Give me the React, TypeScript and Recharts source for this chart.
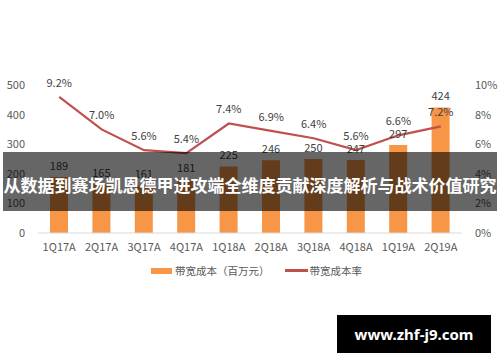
import React from "react";
import {
  ComposedChart,
  Bar,
  Line,
  XAxis,
  YAxis,
  LabelList,
} from "recharts";

const quarters = ["1Q17A", "2Q17A", "3Q17A", "4Q17A", "1Q18A", "2Q18A", "3Q18A", "4Q18A", "1Q19A", "2Q19A"];
const bandwidthCost = [189, 165, 161, 181, 225, 246, 250, 247, 297, 424];
const bandwidthRate = [9.2, 7.0, 5.6, 5.4, 7.4, 6.9, 6.4, 5.6, 6.6, 7.2];
const leftTicks = [0, 100, 200, 300, 400, 500];
const rightTicks = [0, 2, 4, 6, 8, 10];

const BAR_NAME = "带宽成本（百万元）";
const LINE_NAME = "带宽成本率";
const TITLE = "从数据到赛场凯恩德甲进攻端全维度贡献深度解析与战术价值研究";
const WATERMARK = "www.zhf-j9.com";

const ORANGE = "#f79646";
const RED = "#c0504d";
const FONT = "'Noto Sans CJK SC', 'Noto Sans', sans-serif";

const data = quarters.map((q, i) => ({
  name: q,
  cost: bandwidthCost[i],
  rate: bandwidthRate[i],
}));

const tick = { fontSize: 11, fill: "#595959", fontFamily: FONT };

export default function App() {
  return (
    <div style={{ position: "absolute", left: 0, top: 0, width: 500, height: 362, background: "#fff", fontFamily: FONT }}>
      <ComposedChart
        width={500}
        height={362}
        data={data}
        margin={{ top: 85, right: 0, left: 0, bottom: 99 }}
        barCategoryGap={12}
      >
        <XAxis
          dataKey="name"
          height={30}
          tick={tick}
          tickLine={false}
          axisLine={{ stroke: "#d9d9d9" }}
          tickMargin={4}
          interval={0}
        />
        <YAxis
          yAxisId="left"
          width={38}
          domain={[0, 500]}
          ticks={leftTicks}
          tick={tick}
          tickLine={false}
          axisLine={false}
          tickMargin={7}
        />
        <YAxis
          yAxisId="right"
          orientation="right"
          width={38}
          domain={[0, 10]}
          ticks={rightTicks}
          tickFormatter={(v) => `${v}%`}
          tick={tick}
          tickLine={false}
          axisLine={false}
          tickMargin={7}
        />
        <Bar yAxisId="left" dataKey="cost" name={BAR_NAME} fill={ORANGE} isAnimationActive={false}>
          <LabelList dataKey="cost" position="top" offset={7} style={{ fontSize: 11, fill: "#404040", fontFamily: FONT }} />
        </Bar>
        <Line
          yAxisId="right"
          dataKey="rate"
          name={LINE_NAME}
          stroke={RED}
          strokeWidth={2.2}
          dot={false}
          type="linear"
          isAnimationActive={false}
        >
          <LabelList
            dataKey="rate"
            position="top"
            offset={10}
            formatter={(v: any) => `${Number(v).toFixed(1)}%`}
            style={{ fontSize: 11, fill: "#404040", fontFamily: FONT }}
          />
        </Line>
      </ComposedChart>

      {/* legend */}
      <div
        style={{
          position: "absolute",
          top: 263,
          left: 151,
          display: "flex",
          alignItems: "center",
          fontSize: 10.5,
          color: "#595959",
          whiteSpace: "nowrap",
        }}
      >
        <span style={{ display: "inline-block", width: 21, height: 6, background: ORANGE, marginRight: 3 }} />
        <span>{BAR_NAME}</span>
        <span style={{ display: "inline-block", width: 23, height: 2.5, background: RED, marginLeft: 15, marginRight: 2 }} />
        <span>{LINE_NAME}</span>
      </div>

      {/* banner overlay */}
      <div
        style={{
          position: "absolute",
          top: 152,
          left: 3,
          width: 494,
          height: 59,
          background: "rgba(0,0,0,0.6)",
          color: "#fff",
          fontWeight: 700,
          fontSize: 17,
          display: "flex",
          alignItems: "center",
          justifyContent: "center",
          whiteSpace: "nowrap",
          paddingTop: 6,
          boxSizing: "border-box",
        }}
      >
        {TITLE}
      </div>

      {/* watermark */}
      <div
        style={{
          position: "absolute",
          left: 337,
          top: 315,
          width: 154,
          height: 38,
          background: "#000",
          color: "#fff",
          fontWeight: 700,
          fontSize: 15,
          display: "flex",
          alignItems: "center",
          justifyContent: "center",
          fontFamily: "'Noto Sans', sans-serif",
        }}
      >
        {WATERMARK}
      </div>
    </div>
  );
}
